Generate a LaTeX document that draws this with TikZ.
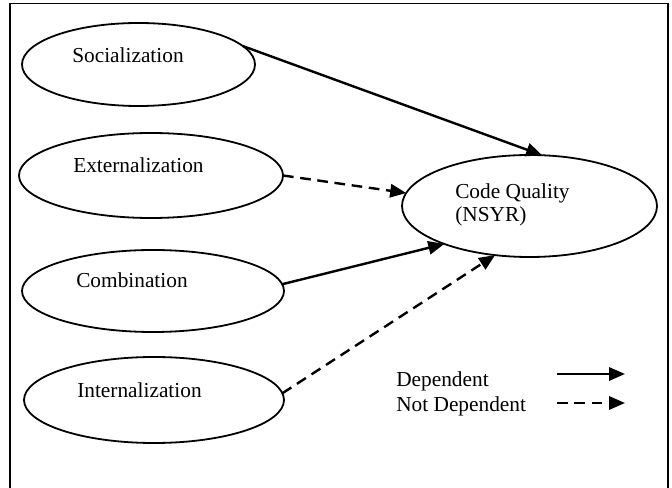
\documentclass[tikz,border=0pt]{standalone}
\usepackage{fontspec}
\setmainfont{Liberation Serif}
\usetikzlibrary{shapes.geometric,arrows.meta}

\tikzset{
  concept/.style={draw, ellipse, line width=1.35pt, inner sep=0pt, outer sep=0pt},
  lbl/.style={anchor=base west, inner sep=0pt, font=\fontsize{16}{19}\selectfont},
  dep/.style={line width=1.8pt, -{Triangle[length=12pt,width=10pt]}},
  notdep/.style={dep, dash pattern=on 8pt off 5pt},
}

\begin{document}
\begin{tikzpicture}[x=0.75pt, y=-0.75pt]
  \useasboundingbox (0,0) rectangle (672,488);
  % outer frame (bottom edge runs off the page)
  \draw[line width=1.4pt] (10,496) -- (10,3.5) -- (668,3.5) -- (668,496);

  % knowledge-conversion modes
  \node[concept, minimum width=233*0.75pt, minimum height=83*0.75pt] (soc) at (138.5,64.5) {};
  \node[concept, minimum width=264*0.75pt, minimum height=85*0.75pt] (ext) at (151,175.5) {};
  \node[concept, minimum width=262*0.75pt, minimum height=82*0.75pt] (comb) at (153,291) {};
  \node[concept, minimum width=260*0.75pt, minimum height=86*0.75pt] (int) at (154,400) {};
  % outcome
  \node[concept, minimum width=255*0.75pt, minimum height=102*0.75pt] (cq) at (529.5,206) {};

  \node[lbl] (socT) at (72,63) {Socialization};
  \node[lbl] (extT) at (73,173) {Externalization};
  \node[lbl] (combT) at (76,288) {Combination};
  \node[lbl] (intT) at (77,398) {Internalization};
  \node[lbl] (cqT1) at (455,198.5) {Code Quality};
  \node[lbl] (cqT2) at (455,222) {(NSYR)};

  % relations
  \draw[dep] (soc.10) -- (cq.76);
  \draw[notdep] (ext.0) -- (cq.174);
  \draw[dep] (comb.3) -- (cq.204.6);
  \draw[notdep] (int.3) -- (cq.235);

  % legend
  \node[lbl] (legD) at (396,387) {Dependent};
  \node[lbl] (legN) at (396,411.5) {Not Dependent};
  \coordinate (l1a) at (557,374);
  \coordinate (l1b) at (625,374);
  \coordinate (l2a) at (557,403);
  \coordinate (l2b) at (625,403);
  \draw[dep] (l1a) -- (l1b);
  \draw[notdep] (l2a) -- (l2b);
\end{tikzpicture}
\end{document}
